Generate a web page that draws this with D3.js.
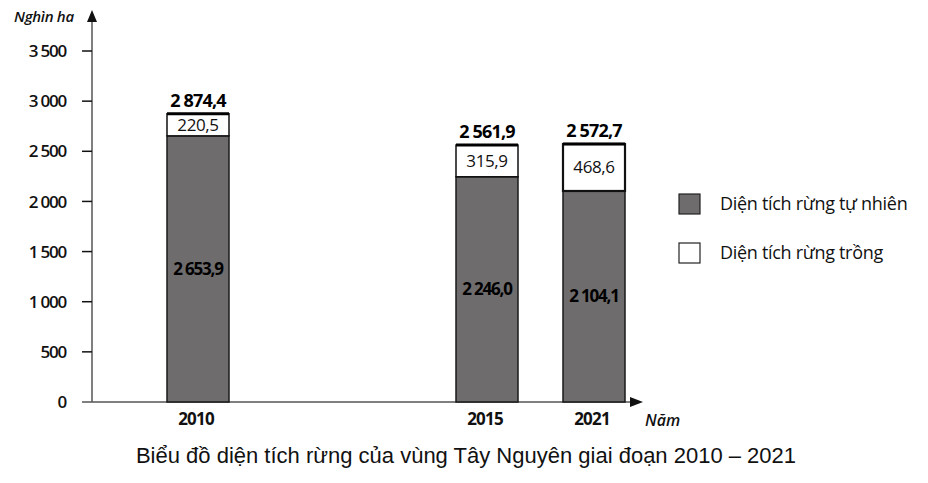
<!DOCTYPE html>
<html>
<head>
<meta charset="utf-8">
<script src="https://cdn.jsdelivr.net/npm/d3@7"></script>
<style>
body{margin:0;background:#fff}
text{font-family:"Open Sans",sans-serif;fill:#111}
</style>
</head>
<body>
<svg width="928" height="483"></svg>
<script>
const years=["2010","2015","2021"]
const natural=[2653.9,2246.0,2104.1]
const planted=[220.5,315.9,468.6]
const totals=[2874.4,2561.9,2572.7]
const yTicks=[0,500,1000,1500,2000,2500,3000,3500]
const legendNames=["Diện tích rừng tự nhiên","Diện tích rừng trồng"]

const fmt=v=>{
  let s=v.toFixed(1).replace(".",",")
  let [a,b]=s.split(",")
  a=a.replace(/\B(?=(\d{3})+(?!\d))/g," ")
  return a+","+b
}
const tickFmt=v=>String(v).replace(/\B(?=(\d{3})+(?!\d))/g," ")

const svg=d3.select("svg")
const y=d3.scaleLinear().domain([0,3500]).range([402,51])
// years are not spaced evenly in the original
const x=d3.scaleLinear().domain([2010,2015,2021]).range([198,487,594])
const bw=62

// y axis
svg.append("line").attr("x1",92).attr("x2",92).attr("y1",402).attr("y2",20)
  .attr("stroke","#555").attr("stroke-width",1.5)
svg.append("path").attr("d","M87,22 L92,10 L97,22 Z").attr("fill","#111")
const ya=svg.selectAll(".yt").data(yTicks).join("g").attr("class","yt")
  .attr("transform",d=>`translate(0,${y(d)})`)
ya.filter(d=>d>0).append("line").attr("x1",82).attr("x2",92).attr("stroke","#111").attr("stroke-width",1.5)
ya.append("text").attr("x",66).attr("dy","0.36em").attr("text-anchor","end")
  .style("font-size","17px").style("font-weight",600).style("letter-spacing","-1.2px").text(tickFmt)
svg.append("text").attr("x",14).attr("y",22).style("font-size","15px").style("font-style","italic")
  .style("font-weight",600).style("letter-spacing","-0.3px").text("Nghìn ha")

// x axis
svg.append("line").attr("x1",82).attr("x2",636).attr("y1",y(0)).attr("y2",y(0))
  .attr("stroke","#555").attr("stroke-width",1.5)
svg.append("path").attr("d",`M630,${y(0)-5} L643,${y(0)} L630,${y(0)+5} Z`).attr("fill","#111")
svg.append("text").attr("x",645).attr("y",426).style("font-size","16px").style("font-style","italic")
  .style("font-weight",600).text("Năm")
svg.selectAll(".xl").data(years).join("text").attr("class","xl")
  .attr("x",d=>x(+d)-2).attr("y",425).attr("text-anchor","middle")
  .style("font-size","17px").style("font-weight",700).style("letter-spacing","-0.8px").text(d=>d)

// bars
const g=svg.selectAll(".bar").data(years).join("g").attr("class","bar")
g.append("rect").attr("x",(d,i)=>x(+d)-bw/2).attr("width",bw)
  .attr("y",(d,i)=>y(natural[i])).attr("height",(d,i)=>y(0)-y(natural[i]))
  .attr("fill","#6e6c6d").attr("stroke","#1a1a1a").attr("stroke-width",1.5)
g.append("rect").attr("x",(d,i)=>x(+d)-bw/2).attr("width",bw)
  .attr("y",(d,i)=>y(natural[i]+planted[i])).attr("height",(d,i)=>y(natural[i])-y(natural[i]+planted[i]))
  .attr("fill","#fff").attr("stroke","#111").attr("stroke-width",(d,i)=>i==2?2.2:1.5)
g.append("line").attr("x1",(d,i)=>x(+d)-bw/2).attr("x2",(d,i)=>x(+d)+bw/2)
  .attr("y1",(d,i)=>y(natural[i]+planted[i])).attr("y2",(d,i)=>y(natural[i]+planted[i]))
  .attr("stroke","#000").attr("stroke-width",3)
g.append("text").attr("x",(d,i)=>x(+d)).attr("y",(d,i)=>(y(0)+y(natural[i]))/2)
  .attr("dy","0.35em").attr("text-anchor","middle").style("font-size","17px").style("font-weight",700)
  .style("letter-spacing","-1.2px").style("fill","#000").text((d,i)=>fmt(natural[i]))
g.append("text").attr("x",(d,i)=>x(+d)).attr("y",(d,i)=>(y(natural[i])+y(natural[i]+planted[i]))/2)
  .attr("dy","0.35em").attr("text-anchor","middle").style("font-size","17px").style("font-weight",400)
  .style("letter-spacing","-0.4px").text((d,i)=>fmt(planted[i]))
g.append("text").attr("x",(d,i)=>x(+d)).attr("y",(d,i)=>y(totals[i])-7)
  .attr("text-anchor","middle").style("font-size","18px").style("font-weight",700)
  .style("letter-spacing","-0.8px").style("fill","#000").text((d,i)=>fmt(totals[i]))

// legend
const lg=svg.selectAll(".lg").data(legendNames).join("g").attr("class","lg")
  .attr("transform",(d,i)=>`translate(679,${194+i*49})`)
lg.append("rect").attr("width",21).attr("height",20)
  .attr("fill",(d,i)=>i==0?"#6e6c6d":"#fff").attr("stroke","#222").attr("stroke-width",1.2)
lg.append("text").attr("x",41).attr("y",10).attr("dy","0.35em").style("font-size","18px").style("font-weight",400)
  .style("letter-spacing","-0.3px").text(d=>d)

// title
svg.append("text").attr("x",466).attr("y",463).attr("text-anchor","middle")
  .style("font-family","'Liberation Sans Narrow','Liberation Sans',sans-serif").style("font-size","22px")
  .text("Biểu đồ diện tích rừng của vùng Tây Nguyên giai đoạn 2010 – 2021")
</script>
</body>
</html>
